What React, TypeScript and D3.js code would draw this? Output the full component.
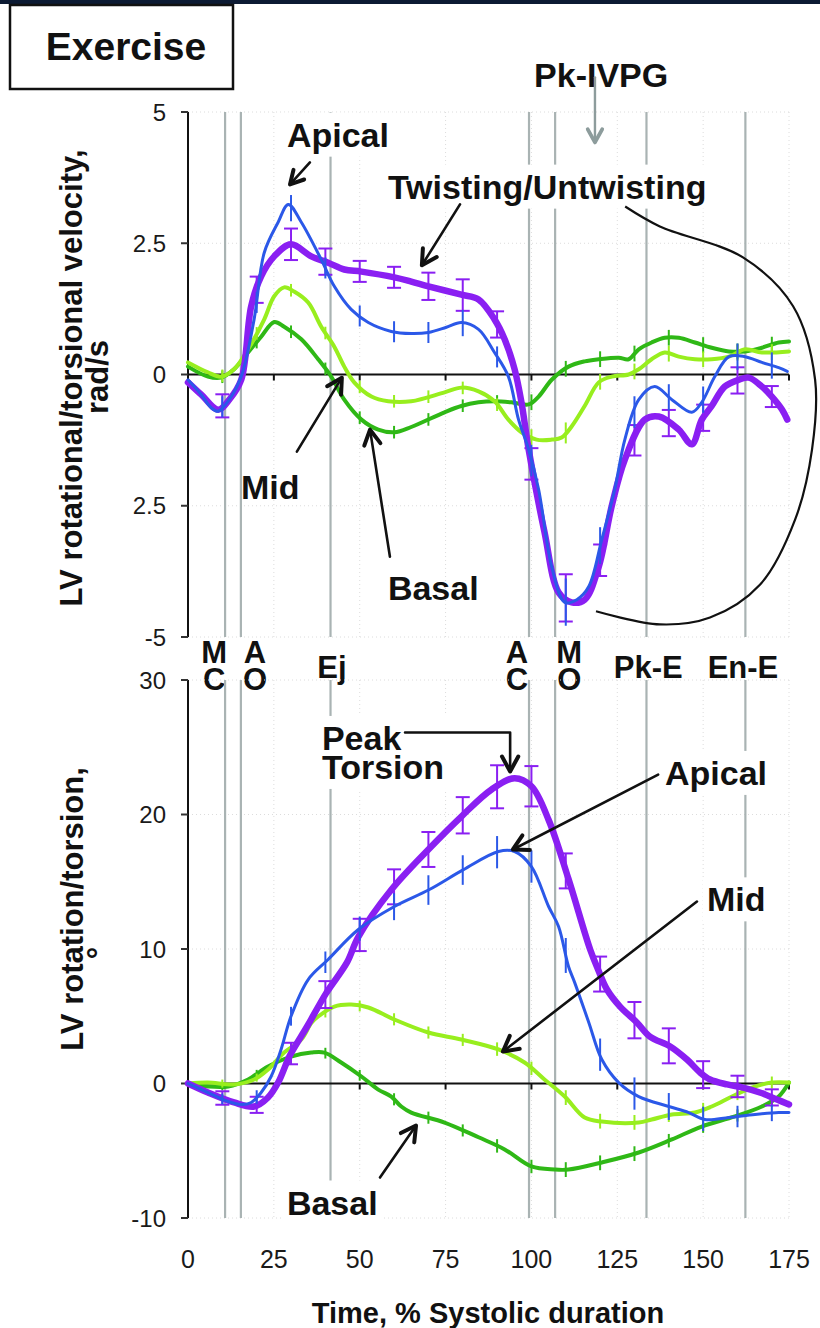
import React, { useLayoutEffect, useRef, useState } from "react";
import * as d3 from "d3";

type Pt = [number, number];

// ---- time axis (% of systolic duration)
const timeTicks = [0, 25, 50, 75, 100, 125, 150, 175];
const timeGrid = [25, 50, 75, 100, 125, 150, 175];

// ---- cardiac timing events
const eventTimes = [10.8, 15.4, 41.5, 99.3, 106.9, 133.5, 162.3];
const eventLabelLines = [["M", "C"], ["A", "O"], ["Ej"], ["A", "C"], ["M", "O"], ["Pk-E"], ["En-E"]];
const eventLabelTimes = [7.6, 19.5, 41.9, 95.8, 111, 134, 161.6];

// ---- times at which SEM bars are shown
const errTimes = [10, 20, 30, 40, 50, 60, 70, 80, 90, 100, 110, 120, 130, 140, 150, 160, 170];

// ---- rotational / torsional velocity (rad/s)
const velTicks = [5, 2.5, 0, -2.5, -5];
const velTickLabels = ["5", "2.5", "0", "2.5", "-5"];

const velApical: Pt[] = [
  [0, -0.1], [3.8, -0.38], [6.7, -0.63], [8.75, -0.7], [12, -0.48], [15.5, -0.04], [19.25, 1.05],
  [22.2, 2.32], [26.25, 2.9], [29.2, 3.24], [33, 2.9], [38.8, 2.19], [42.6, 1.68], [47.5, 1.24],
  [52.5, 0.99], [59.2, 0.82], [65, 0.78], [70, 0.8], [75.25, 0.9], [79.6, 0.99], [84.6, 0.86],
  [89.25, 0.42], [93.3, -0.04], [96.25, -0.86], [99.2, -1.43], [102.1, -2.19], [105.9, -3.66],
  [109.7, -4.34], [113.2, -4.29], [116.7, -4.04], [120.5, -3.14], [124.25, -2.19], [127.2, -1.24],
  [131.25, -0.48], [135.9, -0.23], [140.9, -0.48], [146.7, -0.72], [149.6, -0.53], [153.4, -0.04],
  [157.5, 0.34], [162.2, 0.34], [167.1, 0.23], [172, 0.13], [174.5, 0.06],
];
const velTwist: Pt[] = [
  [0, -0.15], [3.8, -0.38], [8.75, -0.67], [12, -0.48], [15.5, -0.1], [18.4, 1.3], [21.3, 1.87],
  [25.1, 2.25], [30, 2.48], [35.9, 2.25], [40.8, 2.13], [45.5, 2.0], [50.5, 1.96], [60.1, 1.85],
  [65, 1.77], [70, 1.68], [79.6, 1.52], [84.6, 1.43], [89.25, 1.05], [92.2, 0.67], [95.1, 0.1],
  [97.1, -0.53], [99.2, -1.43], [103.8, -3.0], [107.9, -4.15], [111.7, -4.34], [115.5, -4.29],
  [119.6, -3.66], [123.4, -2.5], [127.2, -1.62], [133, -0.86], [137.1, -0.8], [142.9, -1.05],
  [146.7, -1.33], [149.6, -0.86], [152.5, -0.6], [156.3, -0.23], [160.4, -0.1], [163.3, -0.06],
  [167.1, -0.23], [170, -0.42], [173, -0.67], [174.5, -0.86],
];
const velMid: Pt[] = [
  [0, 0.23], [5.8, 0.04], [9.6, -0.04], [13.4, 0.1], [17.5, 0.48], [22.2, 1.05], [25.1, 1.49],
  [28, 1.66], [30.9, 1.58], [35, 1.37], [38.8, 0.91], [42.6, 0.53], [45.5, 0.15], [48.4, -0.15],
  [53.4, -0.42], [58.3, -0.51], [65, -0.51], [74.7, -0.34], [79.6, -0.25], [84.6, -0.32],
  [89.25, -0.51], [93.3, -0.86], [97.1, -1.1], [101.5, -1.24], [105.9, -1.24], [108.8, -1.2],
  [111.7, -0.99], [115.5, -0.6], [119.6, -0.15], [123.4, -0.04], [128.3, 0], [131.25, 0.1],
  [135, 0.29], [138.8, 0.42], [142.9, 0.34], [147.6, 0.29], [152.5, 0.29], [157.5, 0.34],
  [162.2, 0.48], [167.1, 0.42], [175, 0.44],
];
const velBasal: Pt[] = [
  [0, 0.15], [5.8, -0.04], [9.6, -0.06], [13.4, 0.1], [17.5, 0.42], [21.3, 0.72], [25.1, 1.0],
  [28, 0.91], [33, 0.67], [37.9, 0.29], [41.7, -0.04], [45.5, -0.48], [50.5, -0.86], [55.4, -1.05],
  [60.1, -1.1], [65, -1.0], [74.7, -0.72], [79.6, -0.6], [84.6, -0.53], [89.25, -0.51],
  [94.2, -0.53], [99.2, -0.57], [102.1, -0.42], [105.9, -0.1], [110.8, 0.15], [115.5, 0.25],
  [119.6, 0.29], [125.4, 0.32], [128.3, 0.29], [131.25, 0.48], [135, 0.61], [138.8, 0.7],
  [142.9, 0.7], [147.6, 0.61], [152.5, 0.51], [157.5, 0.44], [162.2, 0.44], [167.1, 0.51],
  [172, 0.61], [175, 0.63],
];
const velApicalErr = [0.2, 0.2, 0.25, 0.2, 0.2, 0.2, 0.2, 0.25, 0.2, 0.3, 0.45, 0.35, 0.3, 0.25, 0.25, 0.25, 0.25];
const velTwistErr = [0.22, 0.25, 0.3, 0.25, 0.2, 0.2, 0.26, 0.3, 0.25, 0.3, 0.45, 0.3, 0.29, 0.25, 0.25, 0.25, 0.2];
const velMidErr = [0.12, 0.12, 0.12, 0.12, 0.12, 0.12, 0.12, 0.12, 0.12, 0.15, 0.2, 0.15, 0.15, 0.15, 0.15, 0.15, 0.15];
const velBasalErr = [0.12, 0.12, 0.12, 0.12, 0.12, 0.12, 0.12, 0.12, 0.12, 0.15, 0.15, 0.15, 0.15, 0.15, 0.15, 0.15, 0.15];

// ---- rotation / torsion (degrees)
const rotTicks = [30, 20, 10, 0, -10];
const rotTickLabels = ["30", "20", "10", "0", "-10"];

const rotApical: Pt[] = [
  [0, 0], [5.8, -0.67], [11.7, -1.34], [15.5, -1.56], [18.4, -1.41], [21.3, -0.67], [24.2, 0.52],
  [27.1, 2.53], [30, 5.0], [35, 7.73], [40.8, 9.22], [49.6, 11.45], [60.1, 13.16], [70.3, 14.42],
  [80.2, 15.9], [90.4, 17.25], [95.1, 17.25], [100, 16.13], [105, 13.16], [107.9, 11.67],
  [110.8, 8.7], [112.6, 7.5], [116.7, 4.54], [120.5, 1.78], [125.4, 0.07], [131.25, -0.97],
  [140, -1.71], [145.8, -2.16], [150.5, -2.68], [157.5, -2.53], [165.1, -2.3], [172, -2.16],
  [175, -2.16],
];
const rotTorsion: Pt[] = [
  [0, 0], [5.8, -0.67], [13.4, -1.41], [19.25, -1.71], [23.3, -1.04], [26.25, 0.07], [29.7, 2.1],
  [34.6, 4.2], [40.2, 6.7], [46.3, 9.0], [49.6, 10.9], [59.2, 14.4], [70, 17.4], [79.6, 19.85],
  [88.4, 21.86], [95.1, 22.7], [100, 22.1], [105, 19.6], [110.8, 15.2], [117.1, 9.96],
  [119.4, 8.48], [122, 6.99], [125.8, 5.72], [130.7, 4.54], [134.5, 3.49], [140.4, 2.75],
  [145.3, 1.78], [149.1, 0.82], [152, 0.3], [157, -0.07], [161.6, -0.3], [166.5, -0.67],
  [171.5, -1.19], [175, -1.56],
];
const rotMid: Pt[] = [
  [0, 0], [5.8, 0.07], [13.4, -0.07], [19.25, 0.3], [23.3, 1.04], [28, 2.3], [33, 3.27],
  [35.9, 4.5], [37.9, 4.98], [42.6, 5.72], [47.5, 5.87], [52.5, 5.65], [60.1, 4.76], [70, 3.79],
  [79.6, 3.27], [90.4, 2.53], [98, 1.56], [103.8, 0.3], [109.7, -0.97], [115.5, -2.53],
  [120.5, -2.83], [131.25, -2.9], [135, -2.68], [140.9, -2.3], [147.6, -2.16], [152.5, -1.71],
  [158.4, -0.97], [164.2, -0.3], [170, 0.07], [175, 0.07],
];
const rotBasal: Pt[] = [
  [0, 0], [5.8, -0.22], [11.7, -0.22], [17.5, 0.3], [23.3, 1.26], [30, 2.0], [35.9, 2.3],
  [39.7, 2.3], [44.6, 1.56], [50.5, 0.52], [55.4, -0.45], [59.2, -0.97], [62.1, -1.71],
  [65, -2.16], [74.7, -2.9], [84.6, -4.0], [92.2, -4.9], [100, -6.17], [106.75, -6.4],
  [110.8, -6.4], [120.5, -5.87], [131.25, -5.13], [140.9, -4.16], [149.6, -3.2], [159.25, -2.45],
  [167.1, -1.71], [172, -0.97], [175, 0.07],
];
const rotApicalErr = [0.4, 0.5, 0.7, 0.8, 0.9, 1.0, 1.1, 1.1, 1.2, 1.2, 1.3, 1.2, 1.2, 1.0, 0.9, 0.8, 0.6];
const rotTorsionErr = [0.5, 0.6, 0.8, 1.0, 1.2, 1.3, 1.3, 1.35, 1.6, 1.5, 1.3, 1.3, 1.35, 1.3, 1.0, 0.8, 0.6];
const rotMidErr = [0.3, 0.3, 0.35, 0.4, 0.4, 0.45, 0.45, 0.45, 0.5, 0.5, 0.55, 0.55, 0.55, 0.5, 0.5, 0.45, 0.45];
const rotBasalErr = [0.3, 0.3, 0.35, 0.4, 0.4, 0.45, 0.45, 0.45, 0.5, 0.5, 0.55, 0.55, 0.55, 0.5, 0.5, 0.45, 0.45];

// ---- scales
const x = d3.scaleLinear().domain([0, 175]).range([188, 789]);
const yVel = d3.scaleLinear().domain([-5, 5]).range([637, 112]);
const yRot = d3.scaleLinear().domain([-10, 30]).range([1218, 680]);

const FONT = "'Liberation Sans', Arial, Helvetica, sans-serif";
const COLORS = { apical: "#2b58e8", twist: "#8a1ff2", mid: "#98ee1e", basal: "#2fb816" };
const EVENT_GRAY = "#a9b3b3";

type Scale = d3.ScaleLinear<number, number>;

function Series({ data, err, y, color, width, caps }: { data: Pt[]; err: number[]; y: Scale; color: string; width: number; caps?: boolean }) {
  const line = d3
    .line<Pt>()
    .x((d) => x(d[0]))
    .y((d) => y(d[1]))
    .curve(d3.curveCatmullRom.alpha(0.5));
  const at = d3.scaleLinear().domain(data.map((d) => d[0])).range(data.map((d) => d[1]));
  return (
    <g>
      <path d={line(data) || ""} fill="none" stroke={color} strokeWidth={width} strokeLinejoin="round" strokeLinecap="round" />
      {errTimes.map((t, i) => {
        const c = at(t);
        const px = x(t);
        const y1 = y(c + err[i]);
        const y2 = y(c - err[i]);
        return (
          <g key={i} stroke={color} strokeWidth={2}>
            <line x1={px} x2={px} y1={y1} y2={y2} />
            {caps && <line x1={px - 7} x2={px + 7} y1={y1} y2={y1} />}
            {caps && <line x1={px - 7} x2={px + 7} y1={y2} y2={y2} />}
          </g>
        );
      })}
    </g>
  );
}

function Frame({ y, ticks, labels, lo, hi }: { y: Scale; ticks: number[]; labels: string[]; lo: number; hi: number }) {
  return (
    <g>
      {/* faint dotted grid */}
      {ticks.filter((v) => v !== 0).map((v) => (
        <line key={"h" + v} x1={x(0)} x2={x(175)} y1={y(v)} y2={y(v)} stroke="#dcdcdc" strokeDasharray="1 3" />
      ))}
      {timeGrid.map((t) => (
        <line key={"v" + t} x1={x(t)} x2={x(t)} y1={y(hi)} y2={y(lo)} stroke="#dcdcdc" strokeDasharray="1 3" />
      ))}
      {/* event markers */}
      {eventTimes.map((t, i) => (
        <line key={"e" + i} x1={x(t)} x2={x(t)} y1={y(hi)} y2={y(lo)} stroke={EVENT_GRAY} strokeWidth={2.2} />
      ))}
      {/* y axis */}
      <line x1={x(0)} x2={x(0)} y1={y(hi)} y2={y(lo)} stroke="#111" strokeWidth={2} />
      {ticks.map((v, i) => (
        <g key={"t" + v}>
          <line x1={x(0) - 7} x2={x(0)} y1={y(v)} y2={y(v)} stroke="#333" strokeWidth={2} />
          <text x={x(0) - 22} y={y(v)} textAnchor="end" dominantBaseline="central" fontSize={24} fontFamily={FONT} fill="#1a1a1a">
            {labels[i]}
          </text>
        </g>
      ))}
      {/* zero line with time ticks */}
      <line x1={x(0)} x2={x(175)} y1={y(0)} y2={y(0)} stroke="#111" strokeWidth={2.2} />
      {timeGrid.map((t) => (
        <line key={"z" + t} x1={x(t)} x2={x(t)} y1={y(0)} y2={y(0) + 6} stroke="#111" strokeWidth={2} />
      ))}
    </g>
  );
}

// Bold annotation text (one or more lines), optionally on a white box
function Label({ t, v, y, lines, size = 34, gap = 29, bg = false, anchor = "start" }: { t: number; v: number; y: Scale; lines: string[]; size?: number; gap?: number; bg?: boolean; anchor?: string }) {
  const ref = useRef<SVGTextElement>(null);
  const [box, setBox] = useState<{ x: number; y: number; w: number; h: number } | null>(null);
  useLayoutEffect(() => {
    if (bg && ref.current) {
      const b = ref.current.getBBox();
      setBox({ x: b.x, y: b.y, w: b.width, h: b.height });
    }
  }, [bg, t, v, lines.join("|")]);
  const px = x(t);
  return (
    <g>
      {bg && box && <rect x={box.x - 4} y={box.y - 3} width={box.w + 8} height={box.h + 6} fill="#fff" />}
      <text ref={ref} x={px} y={y(v)} textAnchor={anchor} fontSize={size} fontWeight="bold" fontFamily={FONT} fill="#111">
        {lines.map((s, i) => (
          <tspan key={i} x={px} dy={i === 0 ? 0 : gap}>
            {s}
          </tspan>
        ))}
      </text>
    </g>
  );
}

function Arrow({ pts, y, color = "#111", width = 2.6, head = 17 }: { pts: Pt[]; y: Scale; color?: string; width?: number; head?: number }) {
  const p = pts.map((d) => [x(d[0]), y(d[1])] as Pt);
  const [ax, ay] = p[p.length - 2];
  const [bx, by] = p[p.length - 1];
  const ang = Math.atan2(by - ay, bx - ax);
  const spread = 0.5;
  const h1: Pt = [bx - head * Math.cos(ang - spread), by - head * Math.sin(ang - spread)];
  const h2: Pt = [bx - head * Math.cos(ang + spread), by - head * Math.sin(ang + spread)];
  return (
    <g fill="none" stroke={color} strokeLinecap="round" strokeLinejoin="round">
      <path d={d3.line()(p) || ""} strokeWidth={width} />
      <path d={d3.line()([h1, [bx, by], h2]) || ""} strokeWidth={width + 1.4} />
    </g>
  );
}

// closed loop linking the twisting/untwisting label to the untwisting trough
const untwistLoop: Pt[] = [
  [127.3, 3.2], [137.4, 2.82], [161.6, 2.23], [176.2, 1.3], [182.6, -0.1], [181.7, -1.43],
  [176.8, -2.76], [166.6, -4.0], [152.0, -4.63], [137.4, -4.76], [118.8, -4.51],
];

export default function App() {
  const loopLine = d3
    .line<Pt>()
    .x((d) => x(d[0]))
    .y((d) => yVel(d[1]))
    .curve(d3.curveCatmullRom.alpha(0.5));

  return (
    <svg width={820} height={1328} viewBox="0 0 820 1328" style={{ position: "absolute", left: 0, top: 0, display: "block", background: "#fff" }}>
      <rect x={0} y={0} width={820} height={1328} fill="#fff" />
      <rect x={0} y={0} width={820} height={4} fill="#0c1a33" />

      {/* panel title box */}
      <rect x={10} y={5} width={223} height={84} fill="#fff" stroke="#111" strokeWidth={2.5} />
      <text x={126} y={60} textAnchor="middle" fontSize={39} fontWeight="bold" fontFamily={FONT} fill="#111">
        Exercise
      </text>

      {/* ===== velocity panel ===== */}
      <Frame y={yVel} ticks={velTicks} labels={velTickLabels} lo={-5} hi={5} />
      <text transform="translate(82,378) rotate(-90)" textAnchor="middle" fontSize={31} fontWeight="bold" fontFamily={FONT} fill="#111">
        LV rotational/torsional velocity,
      </text>
      <text transform="translate(108,377) rotate(-90)" textAnchor="middle" fontSize={31} fontWeight="bold" fontFamily={FONT} fill="#111">
        rad/s
      </text>

      <Label t={28.8} v={4.34} y={yVel} lines={["Apical"]} bg />
      <Label t={58.2} v={3.35} y={yVel} lines={["Twisting/Untwisting"]} bg />
      <Label t={15.4} v={-2.38} y={yVel} lines={["Mid"]} />
      <Label t={58.2} v={-4.29} y={yVel} lines={["Basal"]} />
      <Label t={120.3} v={5.47} y={yVel} lines={["Pk-IVPG"]} anchor="middle" />

      <Series data={velBasal} err={velBasalErr} y={yVel} color={COLORS.basal} width={4} />
      <Series data={velMid} err={velMidErr} y={yVel} color={COLORS.mid} width={4} />
      <Series data={velTwist} err={velTwistErr} y={yVel} color={COLORS.twist} width={6.5} caps />
      <Series data={velApical} err={velApicalErr} y={yVel} color={COLORS.apical} width={3} />

      <Arrow y={yVel} pts={[[35.5, 4.04], [29.7, 3.62]]} head={15} />
      <Arrow y={yVel} pts={[[79.2, 3.24], [68.1, 2.08]]} />
      <Arrow y={yVel} pts={[[31.7, -1.47], [44.8, -0.06]]} />
      <Arrow y={yVel} pts={[[58.8, -3.47], [53.0, -1.05]]} />
      <Arrow y={yVel} pts={[[118.5, 5.66], [118.5, 4.42]]} color="#8d9c9c" width={2.4} head={15} />
      <path d={loopLine(untwistLoop) || ""} fill="none" stroke="#111" strokeWidth={2.2} />

      {/* ===== event labels between panels ===== */}
      {eventLabelLines.map((lines, i) => (
        <text
          key={i}
          x={x(eventLabelTimes[i])}
          y={lines.length === 2 ? 663 : 678}
          textAnchor="middle"
          fontSize={31}
          fontWeight="bold"
          fontFamily={FONT}
          fill="#111"
        >
          {lines.map((s, j) => (
            <tspan key={j} x={x(eventLabelTimes[i])} dy={j === 0 ? 0 : 27}>
              {s}
            </tspan>
          ))}
        </text>
      ))}

      {/* ===== rotation / torsion panel ===== */}
      <Frame y={yRot} ticks={rotTicks} labels={rotTickLabels} lo={-10} hi={30} />
      <text transform="translate(83,909) rotate(-90)" textAnchor="middle" fontSize={31} fontWeight="bold" fontFamily={FONT} fill="#111">
        LV rotation/torsion,
      </text>
      <text transform="translate(109,953) rotate(-90)" textAnchor="middle" fontSize={31} fontWeight="bold" fontFamily={FONT} fill="#111">
        °
      </text>

      <Label t={39} v={24.8} y={yRot} lines={["Peak", "Torsion"]} gap={29} bg />
      <Label t={138.9} v={22.2} y={yRot} lines={["Apical"]} bg />
      <Label t={151.1} v={12.8} y={yRot} lines={["Mid"]} bg />
      <Label t={28.8} v={-9.74} y={yRot} lines={["Basal"]} bg />

      <Series data={rotBasal} err={rotBasalErr} y={yRot} color={COLORS.basal} width={4} />
      <Series data={rotMid} err={rotMidErr} y={yRot} color={COLORS.mid} width={4} />
      <Series data={rotTorsion} err={rotTorsionErr} y={yRot} color={COLORS.twist} width={6.5} caps />
      <Series data={rotApical} err={rotApicalErr} y={yRot} color={COLORS.apical} width={3} />

      <Arrow y={yRot} pts={[[63.2, 26.1], [93.8, 26.1], [93.8, 23.2]]} />
      <Arrow y={yRot} pts={[[136.9, 22.97], [94.6, 17.4]]} />
      <Arrow y={yRot} pts={[[148.2, 13.53], [91.7, 2.38]]} />
      <Arrow y={yRot} pts={[[55.9, -6.99], [66.4, -3.12]]} />

      {/* ===== time axis ===== */}
      {timeTicks.map((t) => (
        <text key={t} x={x(t)} y={1268} textAnchor="middle" fontSize={25} fontFamily={FONT} fill="#1a1a1a">
          {t}
        </text>
      ))}
      <text x={488} y={1323} textAnchor="middle" fontSize={29} fontWeight="bold" fontFamily={FONT} fill="#111">
        Time, % Systolic duration
      </text>
    </svg>
  );
}
